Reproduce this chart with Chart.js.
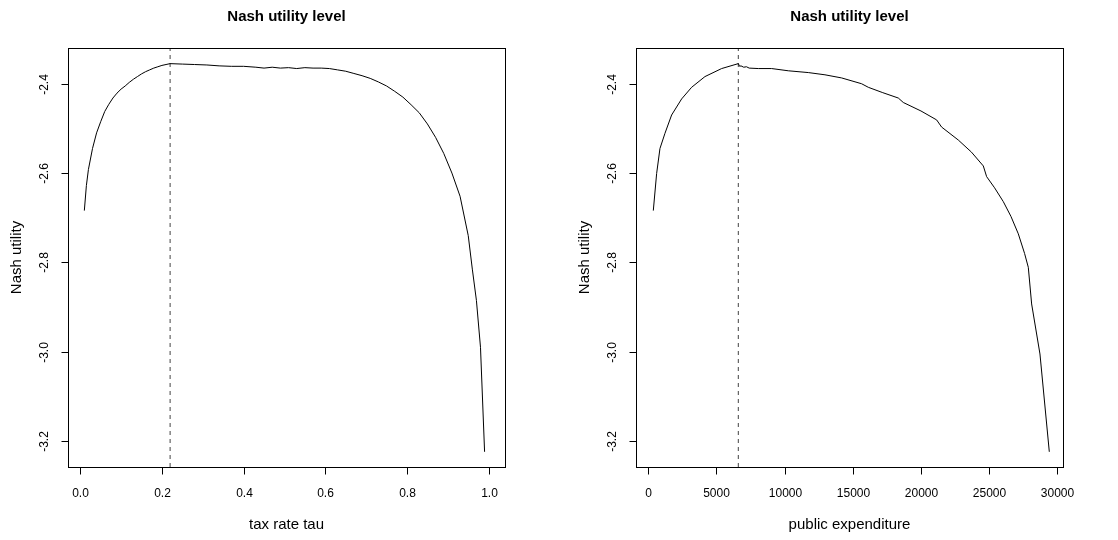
<!DOCTYPE html>
<html>
<head>
<meta charset="utf-8">
<script src="https://cdn.jsdelivr.net/npm/chart.js@4/dist/chart.umd.min.js"></script>
<style>
  html, body { margin: 0; padding: 0; background: #fff; }
  #wrap { position: relative; width: 1118px; height: 540px; }
  canvas { position: absolute; top: 0; }
  #c1 { left: 0; }
  #c2 { left: 559px; }
</style>
</head>
<body>
<div id="wrap">
  <canvas id="c1" width="559" height="540"></canvas>
  <canvas id="c2" width="559" height="540"></canvas>
</div>
<script>
// ---------- data ----------
const chartTitle = "Nash utility level";
const yAxisTitle = "Nash utility";

const tauValues = [0.01, 0.015, 0.02, 0.03, 0.04, 0.05, 0.06, 0.07, 0.08, 0.09, 0.10, 0.11, 0.12, 0.13, 0.14, 0.15,
  0.16, 0.17, 0.18, 0.19, 0.20, 0.21, 0.22, 0.25, 0.28, 0.31, 0.34, 0.37, 0.40, 0.43, 0.45, 0.47, 0.49, 0.51,
  0.53, 0.55, 0.57, 0.59, 0.61, 0.63, 0.65, 0.67, 0.69, 0.71, 0.73, 0.75, 0.77, 0.79, 0.81, 0.83, 0.85, 0.87,
  0.89, 0.91, 0.93, 0.95, 0.96, 0.97, 0.98, 0.99];
const utilityByTau = [-2.684, -2.628, -2.592, -2.545, -2.510, -2.485, -2.462, -2.446, -2.432, -2.421, -2.412, -2.405,
  -2.397, -2.390, -2.384, -2.378, -2.373, -2.369, -2.365, -2.362, -2.359, -2.357, -2.355, -2.356, -2.357, -2.358,
  -2.360, -2.361, -2.361, -2.363, -2.365, -2.363, -2.365, -2.364, -2.366, -2.364, -2.365, -2.365, -2.366, -2.369,
  -2.372, -2.377, -2.382, -2.388, -2.396, -2.405, -2.417, -2.430, -2.447, -2.465, -2.490, -2.520, -2.556, -2.600,
  -2.652, -2.740, -2.815, -2.885, -2.990, -3.224];

const expenditureValues = [367, 611, 856, 1222, 1711, 2445, 3178, 4156, 5379, 6602, 6700, 6800, 7000, 7200, 7400,
  8068, 9046, 10269, 11736, 12959, 14180, 15646, 16138, 17200, 18338, 18705, 20000, 21149, 21515, 22738, 23700,
  24572, 24816, 25400, 26040, 26600, 27140, 27600, 27873, 28117, 28728, 29413];
const utilityByExpenditure = [-2.684, -2.601, -2.545, -2.511, -2.470, -2.434, -2.408, -2.384, -2.366, -2.355,
  -2.361, -2.360, -2.363, -2.362, -2.365, -2.366, -2.366, -2.371, -2.375, -2.380, -2.387, -2.400, -2.408, -2.420,
  -2.432, -2.442, -2.461, -2.481, -2.497, -2.526, -2.553, -2.584, -2.608, -2.633, -2.664, -2.697, -2.736, -2.780,
  -2.811, -2.893, -3.005, -3.224];

const optimalTau = 0.22;
const optimalExpenditure = 6602;

const tauTicks = [0.0, 0.2, 0.4, 0.6, 0.8, 1.0];
const tauTickLabels = ["0.0", "0.2", "0.4", "0.6", "0.8", "1.0"];
const expTicks = [0, 5000, 10000, 15000, 20000, 25000, 30000];
const expTickLabels = ["0", "5000", "10000", "15000", "20000", "25000", "30000"];
const utilTicks = [-2.4, -2.6, -2.8, -3.0, -3.2];
const utilTickLabels = ["-2.4", "-2.6", "-2.8", "-3.0", "-3.2"];

// ---------- drawing ----------
const FONT = "'Liberation Sans', Arial, Helvetica, sans-serif";
const Y_MIN = -3.258, Y_MAX = -2.320;

const rAxesPlugin = {
  id: 'rAxes',
  afterDraw(chart, args, opts) {
    const ctx = chart.ctx;
    const a = chart.chartArea;
    const xs = chart.scales.x, ys = chart.scales.y;
    ctx.save();
    ctx.strokeStyle = '#000';
    ctx.fillStyle = '#000';
    ctx.lineWidth = 1;
    // box
    ctx.strokeRect(Math.round(a.left) + 0.5, Math.round(a.top) + 0.5,
      Math.round(a.right - a.left), Math.round(a.bottom - a.top));
    const bottom = Math.round(a.bottom) + 0.5;
    const left = Math.round(a.left) + 0.5;
    // x ticks
    ctx.font = '12px ' + FONT;
    ctx.textAlign = 'center';
    ctx.textBaseline = 'middle';
    opts.xTicks.forEach((v, i) => {
      const px = Math.round(xs.getPixelForValue(v)) + 0.5;
      ctx.beginPath(); ctx.moveTo(px, bottom); ctx.lineTo(px, bottom + 7); ctx.stroke();
      ctx.fillText(opts.xLabels[i], px, a.bottom + 26.5);
    });
    // y ticks (rotated labels)
    opts.yTicks.forEach((v, i) => {
      const py = Math.round(ys.getPixelForValue(v)) + 0.5;
      ctx.beginPath(); ctx.moveTo(left, py); ctx.lineTo(left - 7, py); ctx.stroke();
      ctx.save();
      ctx.translate(a.left - 23, py);
      ctx.rotate(-Math.PI / 2);
      ctx.fillText(opts.yLabels[i], 0, 0);
      ctx.restore();
    });
    // titles
    const cx = (a.left + a.right) / 2;
    ctx.font = 'bold 15px ' + FONT;
    ctx.fillText(opts.title, cx, 17);
    ctx.font = '15px ' + FONT;
    ctx.fillText(opts.xTitle, cx, a.bottom + 58);
    ctx.save();
    ctx.translate(a.left - 51, (a.top + a.bottom) / 2);
    ctx.rotate(-Math.PI / 2);
    ctx.fillText(opts.yTitle, 0, 0);
    ctx.restore();
    ctx.restore();
  }
};

function makeChart(id, xs, ys, xOpt, xMin, xMax, pad, xTicks, xLabels, xTitle) {
  return new Chart(document.getElementById(id), {
    type: 'scatter',
    data: {
      datasets: [
        {
          data: xs.map((x, i) => ({ x: x, y: ys[i] })),
          showLine: true, borderColor: '#000', borderWidth: 1,
          pointRadius: 0, tension: 0, fill: false
        },
        {
          data: [{ x: xOpt, y: Y_MIN }, { x: xOpt, y: Y_MAX }],
          showLine: true, borderColor: '#444', borderWidth: 1, borderDash: [4, 4],
          pointRadius: 0, tension: 0, fill: false
        }
      ]
    },
    options: {
      responsive: false,
      animation: false,
      devicePixelRatio: 1,
      layout: { padding: pad },
      plugins: {
        legend: { display: false }, tooltip: { enabled: false }, title: { display: false },
        rAxes: { xTicks, xLabels, yTicks: utilTicks, yLabels: utilTickLabels,
                 title: chartTitle, xTitle, yTitle: yAxisTitle }
      },
      scales: {
        x: { type: 'linear', min: xMin, max: xMax, display: false },
        y: { type: 'linear', min: Y_MIN, max: Y_MAX, display: false }
      }
    },
    plugins: [rAxesPlugin]
  });
}

makeChart('c1', tauValues, utilityByTau, optimalTau, -0.030, 1.040,
  { left: 68, right: 54, top: 48, bottom: 73 }, tauTicks, tauTickLabels, "tax rate tau");
makeChart('c2', expenditureValues, utilityByExpenditure, optimalExpenditure, -902, 30418,
  { left: 77, right: 55, top: 48, bottom: 73 }, expTicks, expTickLabels, "public expenditure");
</script>
</body>
</html>
